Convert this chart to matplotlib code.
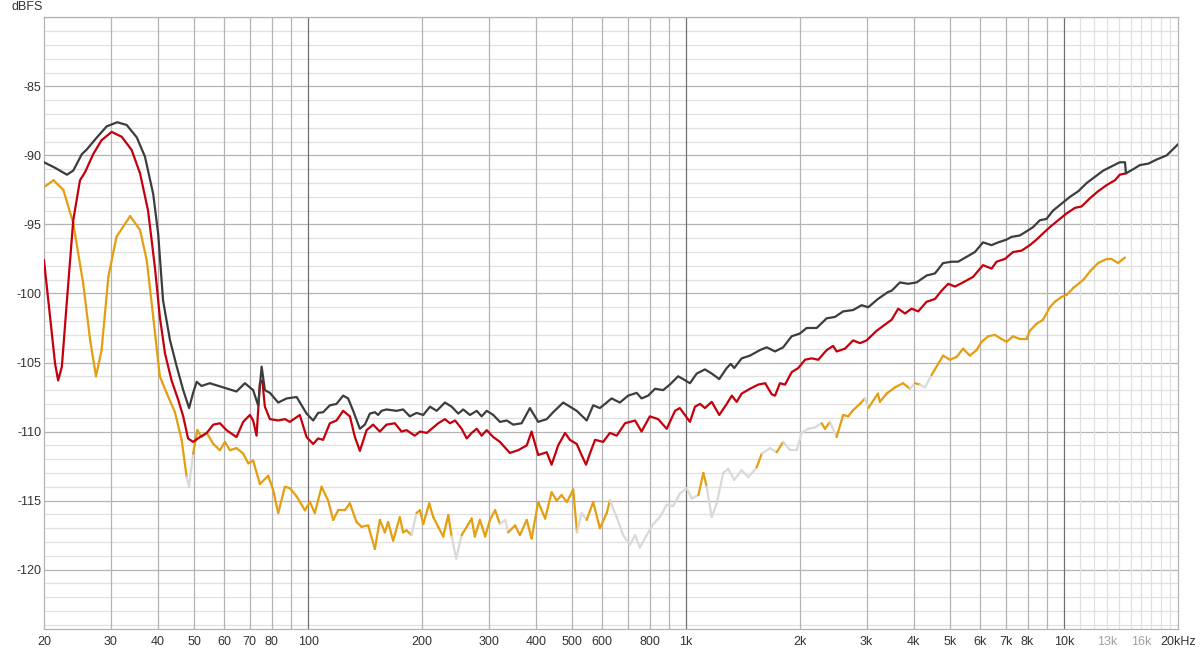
import numpy as np
import matplotlib.pyplot as plt
from matplotlib.collections import LineCollection
from matplotlib.ticker import NullLocator

plt.rcParams['font.family'] = ['Liberation Sans', 'DejaVu Sans']

# dark grey trace
gray_f = [20.0, 21.4, 23.0, 23.9, 25.2, 25.9, 27.6, 29.3, 31.25, 33.1,
          35.2, 37.0, 38.9, 40.1, 41.3, 43.1, 44.9, 46.7, 48.4, 49.6,
          50.7, 52.2, 54.9, 59.6, 64.6, 68.0, 71.5, 73.7, 75.3, 76.8,
          79.2, 83.3, 87.7, 93.2, 99.0, 103.1, 106.2, 109.5, 114.1, 118.8,
          123.7, 127.5, 131.5, 137.0, 141.2, 145.6, 150.1, 153.1, 156.3, 161.1,
          171.3, 178.3, 185.7, 193.4, 201.5, 210.0, 218.7, 230.0, 239.6, 249.4,
          257.1, 267.8, 279.2, 287.6, 296.7, 308.7, 321.5, 335.2, 348.6, 366.9,
          385.9, 405.9, 427.6, 444.7, 472.7, 492.3, 513.3, 545.5, 567.4, 591.0,
          610.0, 634.6, 667.5, 702.1, 739.6, 761.8, 793.0, 827.1, 868.9, 905.0,
          951.9, 981.4, 1023, 1066, 1121, 1168, 1223, 1280, 1312, 1340,
          1402, 1475, 1567, 1633, 1718, 1805, 1901, 1999, 2083, 2214,
          2353, 2475, 2601, 2764, 2911, 3031, 3215, 3417, 3496, 3676,
          3866, 4069, 4325, 4550, 4781, 5036, 5242, 5517, 5804, 6099,
          6424, 6688, 7039, 7256, 7632, 7950, 8269, 8620, 8979, 9340,
          9838, 10359, 10894, 11469, 12063, 12688, 13336, 14027, 14480, 14567,
          15230, 15864, 16682, 17563, 18666, 20000]
gray_db = [-90.5, -90.9, -91.4, -91.1, -89.9, -89.6, -88.7, -87.9, -87.6, -87.8,
           -88.7, -90.1, -92.8, -95.7, -100.5, -103.4, -105.3, -107.0, -108.3, -107.2,
           -106.4, -106.7, -106.5, -106.8, -107.1, -106.5, -107.0, -108.1, -105.3, -107.0,
           -107.2, -107.9, -107.6, -107.5, -108.7, -109.2, -108.65, -108.6, -108.1, -108.0,
           -107.4, -107.6, -108.5, -109.8, -109.5, -108.7, -108.6, -108.8, -108.5, -108.4,
           -108.5, -108.4, -108.9, -108.65, -108.8, -108.2, -108.5, -107.9, -108.2, -108.7,
           -108.4, -108.8, -108.5, -108.9, -108.5, -108.8, -109.3, -109.2, -109.5, -109.4,
           -108.3, -109.3, -109.1, -108.6, -107.9, -108.2, -108.5, -109.2, -108.1, -108.3,
           -108.0, -107.6, -107.9, -107.4, -107.2, -107.6, -107.4, -106.9, -107.0, -106.6,
           -106.0, -106.2, -106.5, -105.8, -105.5, -105.8, -106.2, -105.4, -105.1, -105.4,
           -104.7, -104.5, -104.1, -103.9, -104.2, -103.9, -103.1, -102.9, -102.5, -102.5,
           -101.8, -101.7, -101.3, -101.2, -100.85, -101.0, -100.4, -99.9, -99.8, -99.2,
           -99.3, -99.2, -98.7, -98.55, -97.8, -97.7, -97.7, -97.35, -97.0, -96.3,
           -96.5, -96.3, -96.1, -95.9, -95.8, -95.5, -95.2, -94.7, -94.6, -94.0,
           -93.5, -93.0, -92.6, -92.0, -91.55, -91.1, -90.8, -90.5, -90.5, -91.3,
           -91.0, -90.7, -90.6, -90.3, -90.0, -89.2]

# red trace
red_f = [20.0, 20.7, 21.4, 21.8, 22.3, 23.0, 23.9, 24.9, 25.7, 27.0,
         28.4, 30.2, 32.1, 34.1, 35.9, 37.7, 39.3, 40.5, 41.8, 43.5,
         45.3, 46.7, 48.1, 49.6, 51.7, 53.9, 56.1, 58.4, 60.8, 64.6,
         67.3, 70.1, 71.5, 73.0, 74.5, 75.6, 76.8, 79.2, 83.3, 86.75,
         89.4, 95.0, 99.0, 103.1, 106.2, 109.5, 114.1, 118.8, 123.7, 128.9,
         132.9, 137.0, 142.7, 148.5, 154.7, 161.1, 169.5, 176.5, 182.0, 191.4,
         197.5, 205.9, 212.1, 220.8, 230.0, 237.1, 244.7, 254.6, 262.7, 270.6,
         279.2, 287.6, 296.7, 308.7, 321.5, 341.6, 359.4, 378.6, 389.9, 405.9,
         427.6, 440.4, 458.5, 478.2, 492.3, 513.3, 528.7, 543.3, 556.1, 574.0,
         603.0, 628.1, 654.8, 689.0, 732.3, 761.8, 801.3, 842.8, 887.9, 934.2,
         961.8, 1023, 1055, 1088, 1121, 1168, 1223, 1280, 1320, 1360,
         1402, 1475, 1551, 1618, 1683, 1718, 1770, 1826, 1901, 1979,
         2062, 2147, 2235, 2353, 2447, 2500, 2630, 2764, 2881, 3001,
         3190, 3417, 3496, 3638, 3791, 3947, 4109, 4325, 4550, 4738,
         4932, 5140, 5400, 5739, 6099, 6424, 6623, 6969, 7321, 7712,
         8111, 8449, 8789, 9161, 9636, 10153, 10680, 11116, 11703, 12292,
         12953, 13624, 14027, 14567]
red_db = [-97.6, -101.4, -105.1, -106.3, -105.3, -100.5, -94.7, -91.8, -91.2, -89.9,
          -88.9, -88.3, -88.65, -89.6, -91.3, -94.0, -98.1, -101.7, -104.35, -106.3,
          -107.7, -108.9, -110.5, -110.75, -110.4, -110.1, -109.5, -109.4, -109.9, -110.4,
          -109.3, -108.8, -109.2, -110.3, -106.5, -106.3, -108.2, -109.1, -109.2, -109.1,
          -109.3, -108.8, -110.4, -110.9, -110.5, -110.6, -109.4, -109.2, -108.5, -108.9,
          -110.4, -111.4, -109.9, -109.5, -110.0, -109.5, -109.4, -110.0, -109.9, -110.3,
          -110.0, -110.1, -109.8, -109.4, -109.1, -109.4, -109.2, -109.8, -110.5, -110.1,
          -109.8, -110.3, -109.9, -110.4, -110.75, -111.55, -111.35, -111.0, -110.0, -111.7,
          -111.5, -112.4, -111.0, -110.1, -110.6, -110.9, -111.7, -112.4, -111.6, -110.6,
          -110.75, -110.1, -110.3, -109.4, -109.2, -110.0, -108.9, -109.1, -109.8, -108.5,
          -108.3, -109.3, -108.2, -108.0, -108.3, -107.85, -108.8, -108.0, -107.4, -107.85,
          -107.25, -106.9, -106.6, -106.5, -107.3, -107.4, -106.5, -106.6, -105.7, -105.4,
          -104.8, -104.7, -104.8, -104.1, -103.8, -104.2, -104.0, -103.4, -103.6, -103.4,
          -102.7, -102.1, -101.9, -101.1, -101.45, -101.1, -101.3, -100.6, -100.4, -99.8,
          -99.3, -99.5, -99.2, -98.8, -97.95, -98.2, -97.7, -97.5, -97.0, -96.9,
          -96.5, -96.1, -95.65, -95.2, -94.7, -94.2, -93.8, -93.7, -93.1, -92.6,
          -92.15, -91.8, -91.4, -91.3]

# orange trace (parts below threshold are drawn pale)
orange_f = [20.0, 21.2, 22.5, 23.9, 25.4, 26.5, 27.45, 28.4, 29.6, 31.1,
            33.8, 35.9, 37.4, 38.9, 40.5, 42.2, 44.4, 46.25, 47.7, 48.4,
            49.6, 50.9, 52.2, 53.9, 56.1, 58.4, 60.2, 62.1, 64.6, 67.3,
            69.4, 71.5, 74.5, 78.4, 80.8, 83.3, 86.75, 89.4, 93.2, 98.0,
            101.0, 104.1, 108.5, 112.9, 116.4, 120.0, 125.0, 128.9, 134.2, 138.4,
            144.1, 150.1, 154.7, 159.5, 162.7, 167.75, 174.7, 178.3, 182.0, 187.6,
            193.4, 197.5, 201.5, 209.0, 214.2, 220.8, 227.6, 234.7, 239.6, 246.3,
            254.6, 262.7, 270.6, 275.9, 284.6, 293.8, 302.5, 312.2, 321.5, 331.8,
            338.1, 352.7, 363.1, 378.6, 389.9, 405.9, 423.4, 440.4, 454.4, 468.1,
            483.0, 492.3, 502.3, 514.2, 528.7, 545.5, 567.4, 591.0, 616.2, 628.1,
            654.8, 681.1, 709.4, 732.3, 753.9, 786.1, 817.6, 851.6, 887.9, 923.5,
            961.8, 1003, 1034, 1077, 1110, 1133, 1168, 1204, 1253, 1292,
            1340, 1402, 1460, 1536, 1584, 1666, 1735, 1805, 1881, 1960,
            2020, 2103, 2192, 2282, 2329, 2400, 2500, 2601, 2683, 2764,
            2881, 2971, 3031, 3215, 3254, 3390, 3567, 3747, 3906, 4029,
            4152, 4282, 4458, 4641, 4781, 4984, 5191, 5400, 5629, 5864,
            6045, 6292, 6557, 6827, 7039, 7321, 7632, 7950, 8111, 8449,
            8789, 9161, 9449, 9838, 10153, 10570, 11242, 11703, 12292, 12953,
            13336, 13873, 14480]
orange_db = [-92.3, -91.8, -92.5, -94.9, -99.3, -103.4, -106.0, -104.1, -98.8, -95.9,
             -94.4, -95.4, -97.6, -101.7, -106.0, -107.2, -108.6, -110.6, -113.3, -114.0,
             -111.6, -109.9, -110.4, -110.1, -110.9, -111.35, -110.75, -111.35, -111.2, -111.6,
             -112.3, -112.1, -113.8, -113.2, -114.25, -115.9, -114.0, -114.1, -114.7, -115.7,
             -115.1, -115.9, -114.0, -115.0, -116.4, -115.7, -115.7, -115.2, -116.55, -116.9,
             -116.8, -118.5, -116.4, -117.3, -116.55, -117.9, -116.2, -117.3, -117.15, -117.5,
             -115.9, -115.7, -116.7, -115.2, -116.2, -116.9, -117.6, -116.05, -117.6, -119.2,
             -117.5, -116.9, -116.3, -117.6, -116.4, -117.6, -116.4, -115.7, -116.7, -116.4,
             -117.3, -116.8, -117.5, -116.4, -117.75, -115.1, -116.3, -114.4, -115.0, -114.6,
             -115.1, -114.7, -114.2, -117.3, -115.9, -116.4, -115.1, -117.0, -115.9, -115.0,
             -116.2, -117.5, -118.2, -117.5, -118.4, -117.5, -116.7, -116.2, -115.3, -115.4,
             -114.5, -114.1, -114.85, -114.6, -113.0, -114.0, -116.2, -115.2, -113.0, -112.7,
             -113.5, -112.8, -113.3, -112.6, -111.6, -111.2, -111.5, -110.75, -111.35, -111.35,
             -110.1, -109.8, -109.7, -109.4, -109.8, -109.3, -110.4, -108.8, -108.9, -108.45,
             -108.0, -107.6, -108.3, -107.25, -107.85, -107.25, -106.8, -106.5, -106.9, -106.5,
             -106.6, -106.8, -105.9, -105.1, -104.5, -104.8, -104.6, -104.0, -104.5, -104.1,
             -103.5, -103.1, -103.0, -103.3, -103.5, -103.1, -103.3, -103.3, -102.7, -102.2,
             -101.9, -101.0, -100.6, -100.25, -100.1, -99.6, -99.0, -98.4, -97.8, -97.5,
             -97.5, -97.8, -97.4]
faint_ranges = [(47.9, 49.5), (189, 192), (242, 256), (326, 342), (515, 550),
                (635, 1090), (1125, 1545), (1600, 1760), (1830, 2270), (2390, 2540),
                (2990, 3100), (3880, 3990), (4180, 4400)]

x_ticks = [20, 30, 40, 50, 60, 70, 80, 100, 200, 300, 400, 500, 600, 800, 1000,
           2000, 3000, 4000, 5000, 6000, 7000, 8000, 10000, 13000, 16000, 20000]
x_labels = ['20', '30', '40', '50', '60', '70', '80', '100', '200', '300', '400',
            '500', '600', '800', '1k', '2k', '3k', '4k', '5k', '6k', '7k', '8k',
            '10k', '13k', '16k', '20kHz']
y_ticks = [-85, -90, -95, -100, -105, -110, -115, -120]

fig = plt.figure(figsize=(12, 6.52), dpi=100)
ax = fig.add_axes([44 / 1200, 1 - 629 / 652, 1134 / 1200, 611.7 / 652])
ax.set_xscale('log')
ax.set_xlim(20, 20000)
ax.set_ylim(-124.3, -80)

# grid
for db in range(-124, -79):
    ax.axhline(db, color='#b4b4b4' if db % 5 == 0 else '#e0e0e0', lw=0.9, zorder=0)
minor = [k * 10 ** p for p in (1, 2, 3) for k in range(2, 10) if 20 < k * 10 ** p < 10000]
for f in minor:
    ax.axvline(f, color='#b4b4b4', lw=0.9, zorder=0)
for f in [100, 1000, 10000]:
    ax.axvline(f, color='#707070', lw=0.9, zorder=0)
for f in range(11000, 20000, 1000):
    ax.axvline(f, color='#e0e0e0', lw=0.9, zorder=0)

for s in ax.spines.values():
    s.set_color('#b4b4b4')
    s.set_linewidth(0.9)

# orange with pale stretches
of = np.array(orange_f)
od = np.array(orange_db)
pts = np.column_stack([of, od])
segs = np.stack([pts[:-1], pts[1:]], axis=1)
mid = np.sqrt(of[:-1] * of[1:])
faint = np.zeros(len(mid), dtype=bool)
for lo, hi in faint_ranges:
    faint |= (mid > lo) & (mid < hi)
cols = np.where(faint[:, None], np.array([[0.85, 0.85, 0.85, 1]]),
                np.array([[0.898, 0.62, 0.06, 1]]))
lc = LineCollection(segs, colors=cols, linewidths=1.6, capstyle='round',
                    joinstyle='round', zorder=2)
ax.add_collection(lc)

ax.plot(red_f, red_db, color='#c4000c', lw=1.6, zorder=3, solid_joinstyle='round')
ax.plot(gray_f, gray_db, color='#3d3d3d', lw=1.6, zorder=4, solid_joinstyle='round')

ax.set_xticks(x_ticks)
ax.set_xticklabels(x_labels)
ax.xaxis.set_minor_locator(NullLocator())
ax.set_yticks(y_ticks)
ax.set_yticklabels([str(v) for v in y_ticks])
ax.yaxis.set_minor_locator(NullLocator())
ax.tick_params(length=0, labelsize=9, labelcolor='#333333')
ax.tick_params(axis='x', pad=5)
ax.tick_params(axis='y', pad=2)
for lab in ax.get_xticklabels():
    if lab.get_text() in ('13k', '16k'):
        lab.set_color('#a0a0a0')

fig.text(12 / 1200, 1 - 7 / 652, 'dBFS', fontsize=9, color='#333333',
         ha='left', va='center')

fig.savefig('out.png', dpi=100)
